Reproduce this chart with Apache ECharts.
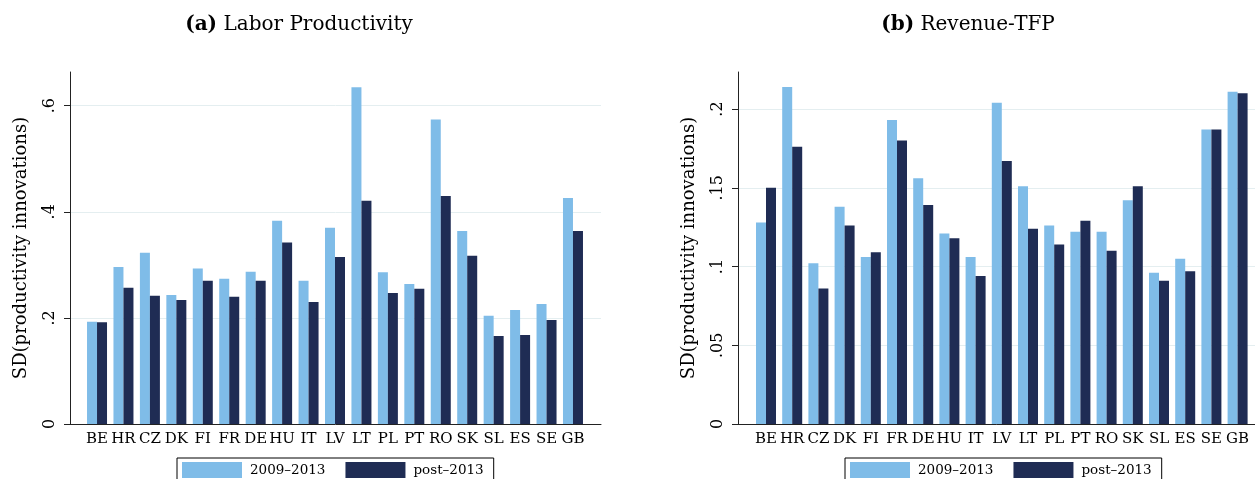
<!DOCTYPE html>
<html>
<head>
<meta charset="utf-8">
<script src="https://cdn.jsdelivr.net/npm/echarts@6/dist/echarts.min.js"></script>
<style>
html,body{margin:0;padding:0;background:#fff;}
#chart{width:1255px;height:479px;}
</style>
</head>
<body>
<div id="chart"></div>
<script>
const countries = ['BE','HR','CZ','DK','FI','FR','DE','HU','IT','LV','LT','PL','PT','RO','SK','SL','ES','SE','GB'];
const seriesNames = ['2009\u20132013', 'post\u20132013'];
const laborEarly = [0.193,0.296,0.323,0.243,0.293,0.274,0.287,0.383,0.270,0.370,0.635,0.286,0.264,0.574,0.364,0.204,0.215,0.226,0.426];
const laborPost  = [0.192,0.257,0.242,0.234,0.270,0.240,0.270,0.342,0.230,0.315,0.421,0.247,0.255,0.430,0.317,0.166,0.168,0.196,0.364];
const tfpEarly   = [0.128,0.214,0.102,0.138,0.106,0.193,0.156,0.121,0.106,0.204,0.151,0.126,0.122,0.122,0.142,0.096,0.105,0.187,0.211];
const tfpPost    = [0.150,0.176,0.086,0.126,0.109,0.180,0.139,0.118,0.094,0.167,0.124,0.114,0.129,0.110,0.151,0.091,0.097,0.187,0.210];
const ticksA = [0, 0.2, 0.4, 0.6];
const tickLabelsA = ['0', '.2', '.4', '.6'];
const ticksB = [0, 0.05, 0.1, 0.15, 0.2];
const tickLabelsB = ['0', '.05', '.1', '.15', '.2'];
const titles = ['(a)', 'Labor Productivity', '(b)', 'Revenue-TFP'];
const yTitle = 'SD(productivity innovations)';

const FONT = 'DejaVu Serif';
const LIGHT = '#7FBCE8';
const DARK = '#1F2C54';
const GRIDC = '#E4EEF0';

function lab(ticks, labels) {
  return function (v) {
    let best = 0;
    for (let i = 1; i < ticks.length; i++) if (Math.abs(ticks[i] - v) < Math.abs(ticks[best] - v)) best = i;
    return labels[best];
  };
}

const panels = [
  {axL: 70, barL: 83.8, barW: 502.4, axW: 531, max: 0.6636, interval: 0.2, ticks: ticksA, labels: tickLabelsA, early: laborEarly, post: laborPost, titleX: 299, tb: titles[0], tt: titles[1], legX: 177},
  {axL: 738, barL: 752.9, barW: 497.8, axW: 527.5, max: 0.2235, interval: 0.05, ticks: ticksB, labels: tickLabelsB, early: tfpEarly, post: tfpPost, titleX: 968, tb: titles[2], tt: titles[3], legX: 845}
];

const option = {
  animation: false,
  backgroundColor: '#fff',
  textStyle: {fontFamily: FONT},
  title: [], grid: [], xAxis: [], yAxis: [], series: [], legend: []
};

panels.forEach((p, k) => {
  const gA = k * 2, gB = k * 2 + 1;
  option.title.push({
    text: '{b|' + p.tb + '} ' + p.tt,
    left: p.titleX, top: 15, textAlign: 'center', padding: 0,
    textStyle: {fontFamily: FONT, fontSize: 20, fontWeight: 'normal', color: '#000',
      rich: {b: {fontFamily: FONT, fontSize: 20, fontWeight: 'bold', color: '#000'}}}
  });
  option.grid.push({left: p.axL, top: 72, width: p.axW, height: 352, containLabel: false, outerBoundsMode: 'none'});
  option.grid.push({left: p.barL, top: 72, width: p.barW, height: 352, containLabel: false, outerBoundsMode: 'none'});
  option.xAxis.push({
    gridIndex: gA, type: 'value', min: 0, max: 1,
    axisLine: {show: true, lineStyle: {color: '#222', width: 1}},
    axisTick: {show: false}, axisLabel: {show: false}, splitLine: {show: false}
  });
  option.xAxis.push({
    gridIndex: gB, type: 'category', data: countries,
    axisLine: {show: false}, axisTick: {show: false},
    axisLabel: {interval: 0, margin: 8, fontFamily: FONT, fontSize: 15, color: '#000'}
  });
  option.yAxis.push({
    gridIndex: gA, type: 'value', min: 0, max: p.max, interval: p.interval,
    name: yTitle, nameLocation: 'middle', nameRotate: 90, nameGap: 40,
    nameTextStyle: {fontFamily: FONT, fontSize: 18, color: '#000'},
    axisLine: {show: true, lineStyle: {color: '#222', width: 1}},
    axisTick: {show: true, length: 6, customValues: p.ticks, lineStyle: {color: '#222'}},
    axisLabel: {rotate: 90, margin: 12, customValues: p.ticks, fontFamily: FONT, fontSize: 16, color: '#000', formatter: lab(p.ticks, p.labels)},
    splitLine: {show: true, showMinLine: false, lineStyle: {color: GRIDC, width: 1}}
  });
  option.yAxis.push({gridIndex: gB, type: 'value', min: 0, max: p.max, show: false, splitLine: {show: false}});
  option.series.push({
    type: 'bar', name: seriesNames[0], xAxisIndex: gB, yAxisIndex: gB, data: p.early,
    barWidth: 10, barGap: '0%', itemStyle: {color: LIGHT}
  });
  option.series.push({
    type: 'bar', name: seriesNames[1], xAxisIndex: gB, yAxisIndex: gB, data: p.post,
    barWidth: 10, barGap: '0%', itemStyle: {color: DARK}
  });
  option.legend.push({
    data: seriesNames, left: p.legX, top: 458, orient: 'horizontal',
    padding: [4, 10, 4, 5], itemGap: 20, itemWidth: 60, itemHeight: 16, icon: 'rect',
    borderColor: '#000', borderWidth: 1, backgroundColor: '#fff', selectedMode: false,
    textStyle: {fontFamily: FONT, fontSize: 13.5, color: '#000', padding: [0, 0, 2, 3]}
  });
});

const chart = echarts.init(document.getElementById('chart'), null, {renderer: 'canvas'});
chart.setOption(option);
</script>
</body>
</html>
